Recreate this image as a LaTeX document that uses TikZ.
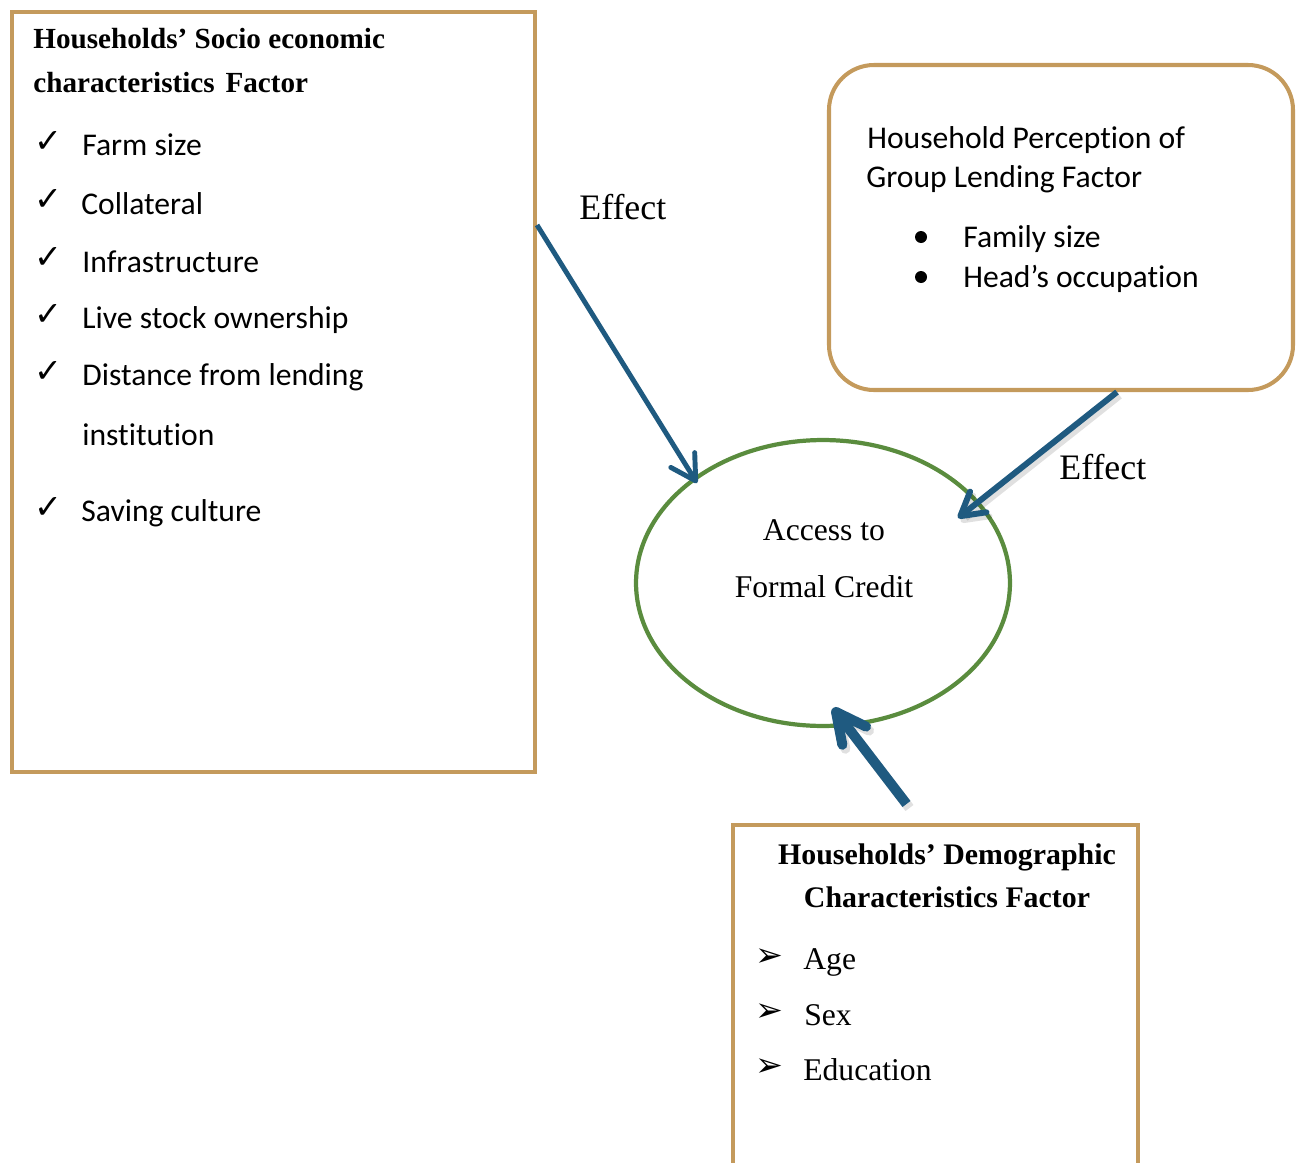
\documentclass[tikz,border=0pt]{standalone}
\usepackage{fontspec}
\setmainfont{Liberation Serif}
\newfontfamily\carl[Ligatures={NoCommon}]{Carlito}
\newfontfamily\dvs{DejaVu Sans}
\usetikzlibrary{arrows.meta,shapes.geometric,fit,calc}
\definecolor{boxtan}{HTML}{C49A5C}
\definecolor{ellgreen}{HTML}{5A8C3E}
\definecolor{arrblue}{HTML}{1F5A80}
\begin{document}
\begin{tikzpicture}[x=0.02cm,y=-0.02cm,
  box/.style={draw=boxtan, line width=2.3pt, inner sep=0pt},
  txt/.style={anchor=base west, inner sep=0pt},
  ttl/.style={txt, font=\fontsize{16.6}{20}\selectfont\bfseries},
  ttlc/.style={anchor=base, inner sep=0pt, font=\fontsize{17}{20}\selectfont\bfseries},
  itm/.style={txt, font=\carl\fontsize{18}{22}\selectfont},
  ser/.style={txt, font=\fontsize{18}{22}\selectfont},
  serc/.style={anchor=base, inner sep=0pt, font=\fontsize{18}{22}\selectfont},
  eff/.style={txt, font=\fontsize{20.4}{24}\selectfont},
  chk/.style={txt, font=\dvs\fontsize{19}{22}\selectfont},
  tri/.style={txt, font=\dvs\fontsize{19}{22}\selectfont},
  dot/.style={circle, fill=black, inner sep=0pt, minimum size=0.24cm},
  arrA/.style={draw=arrblue, line width=2.8pt, -{Straight Barb[length=14pt,width=16pt,round]}},
  arrB/.style={draw=arrblue, line width=3.4pt, -{Straight Barb[length=13pt,width=15pt,round]}},
  arrC/.style={draw=arrblue, line width=5.7pt, -{Straight Barb[length=17pt,width=17pt,round]}},
  shad/.style={draw=black, opacity=0.12},
]
\useasboundingbox (0,0) rectangle (1296,1163);
\clip (0,0) rectangle (1296,1163);

% boxes
\node[box, fit={(12,12)(535,772)}] (socio) {};
\node[box, rounded corners=0.9cm, fit={(829,65)(1293,390)}] (perc) {};
\node[box, fit={(733,825)(1138,1220)}] (demo) {};
\node[draw=ellgreen, line width=2.4pt, ellipse, minimum width=7.48cm, minimum height=5.72cm, inner sep=0pt] (credit) at (823,583) {};

% left box text
\node[ttl] (s1) at (33,48) {Households’ Socio economic};
\node[ttl] (s2) at (33,92) {characteristics\hspace{2pt} Factor};
\node[chk] (k1) at (34,152) {✓};
\node[chk] (k2) at (34,210) {✓};
\node[chk] (k3) at (34,268) {✓};
\node[chk] (k4) at (34,325) {✓};
\node[chk] (k5) at (34,382) {✓};
\node[chk] (k6) at (34,518) {✓};
\node[itm] (i1) at (82,155) {Farm size};
\node[itm] (i2) at (81,214) {Collateral};
\node[itm] (i3) at (82,272) {Infrastructure};
\node[itm] (i4) at (82,328) {Live stock ownership};
\node[itm] (i5) at (82,385) {Distance from lending};
\node[itm] (i6) at (82,445) {inst\kern0pt itut\kern0pt ion};
\node[itm] (i7) at (81,521) {Saving culture};

% right box text
\node[itm] (p1) at (867,148) {Household Percept\kern0pt ion of};
\node[itm] (p2) at (866,187) {Group Lending Factor};
\node[dot] (b1) at (921,237) {};
\node[dot] (b2) at (921,277) {};
\node[itm] (p3) at (963,247) {Family size};
\node[itm] (p4) at (963,287) {Head’s occupat\kern0pt ion};

% ellipse text
\node[serc] (c1) at (824,540) {Access to};
\node[serc] (c2) at (824,597) {Formal Credit};

% bottom box text
\node[ttlc] (d1) at (947,864) {Households’ Demographic};
\node[ttlc] (d2) at (947,907) {Characteristics Factor};
\node[tri] (t1) at (755,966) {➢};
\node[tri] (t2) at (755,1021) {➢};
\node[tri] (t3) at (755,1076) {➢};
\node[ser] (a1) at (803,969) {Age};
\node[ser] (a2) at (804,1025) {Sex};
\node[ser] (a3) at (803,1080) {Education};

% effect labels
\node[eff] (e1) at (579,219) {Effect};
\node[eff] (e2) at (1059,479) {Effect};

% shadows
\draw[arrB, shad] ($(1117,0 |- perc.south)+(3,4)$) -- ($(credit.center)+(138,-61)$);
\draw[arrC, shad] ($(demo.north)+(-26,-15)$) -- ($(credit.center)+(13,129)$);

% connectors
\draw[arrA] (socio.east |- 0,225) -- ($(credit.center)+(-126,-100)$);
\draw[arrB] (1117,0 |- perc.south) -- ($(credit.center)+(135,-65)$);
\draw[arrC] ($(demo.north)+(-29,-19)$) -- ($(credit.center)+(10,125)$);
\end{tikzpicture}
\end{document}
